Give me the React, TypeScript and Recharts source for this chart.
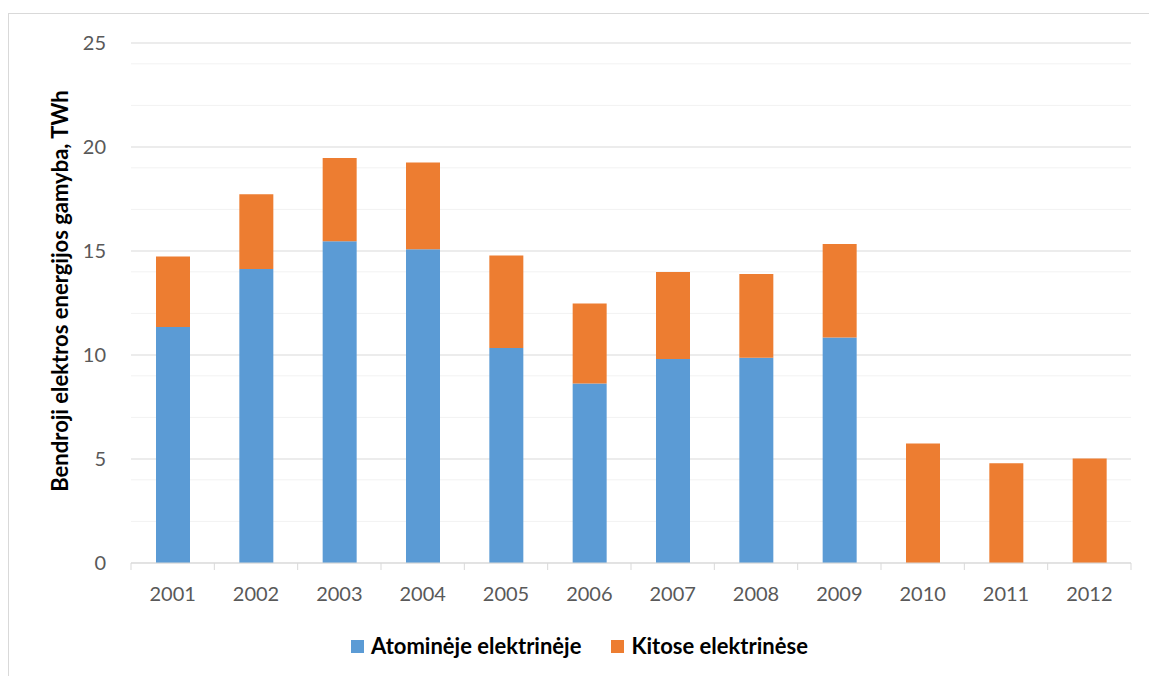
import React from "react";
import { BarChart, Bar, XAxis, YAxis, CartesianGrid, Legend } from "recharts";

const categories = ["2001", "2002", "2003", "2004", "2005", "2006", "2007", "2008", "2009", "2010", "2011", "2012"];
const atomineValues = [11.35, 14.13, 15.47, 15.08, 10.34, 8.63, 9.81, 9.87, 10.84, 0, 0, 0];
const kitoseValues = [3.38, 3.6, 4.0, 4.17, 4.44, 3.84, 4.18, 4.02, 4.5, 5.74, 4.79, 5.03];
const majorTicks = [0, 5, 10, 15, 20, 25];
const minorTicks = [1, 2, 3, 4, 6, 7, 8, 9, 11, 12, 13, 14, 16, 17, 18, 19, 21, 22, 23, 24];
const seriesNames = ["Atominėje elektrinėje", "Kitose elektrinėse"];
const seriesColors = ["#5b9bd5", "#ed7d31"];
const yTitle = "Bendroji elektros energijos gamyba, TWh";

const data = categories.map((c, i) => ({
  year: c,
  atomine: atomineValues[i],
  kitose: kitoseValues[i],
}));

const FONT = "Lato, 'Open Sans', sans-serif";

const XTick = (props: any) => {
  const { x, y, payload, index } = props;
  const off = payload && payload.offset ? payload.offset : 0;
  const axisY = y - 24;
  return (
    <g>
      <line x1={x - off} x2={x - off} y1={axisY} y2={axisY + 7} stroke="#d9d9d9" strokeWidth={1} />
      {index === categories.length - 1 ? (
        <line x1={x + off} x2={x + off} y1={axisY} y2={axisY + 7} stroke="#d9d9d9" strokeWidth={1} />
      ) : null}
      <text x={x} y={y} dy="0.71em" textAnchor="middle" fill="#595959" fontSize={20} fontFamily={FONT}>
        {payload.value}
      </text>
    </g>
  );
};

const YTitle = (props: any) => {
  const vb = props.viewBox || { x: 0, y: 0, width: 0, height: 0 };
  const cx = vb.x + 59;
  const cy = vb.y + vb.height / 2 - 12;
  return (
    <text
      x={cx}
      y={cy}
      transform={`rotate(-90 ${cx} ${cy})`}
      textAnchor="middle"
      dominantBaseline="central"
      fontSize={22}
      fontWeight="bold"
      fontFamily={FONT}
      fill="#000"
    >
      {yTitle}
    </text>
  );
};

const LegendContent = () => (
  <div style={{ display: "flex", justifyContent: "center", alignItems: "center", fontFamily: FONT }}>
    {seriesNames.map((n, i) => (
      <div key={n} style={{ display: "flex", alignItems: "center", marginLeft: i === 0 ? 0 : 30 }}>
        <span style={{ display: "inline-block", width: 13, height: 13, background: seriesColors[i], marginRight: 7 }} />
        <span style={{ fontSize: 22, fontWeight: "bold", color: "#000", lineHeight: "26px" }}>{n}</span>
      </div>
    ))}
  </div>
);

export default function App() {
  return (
    <div style={{ position: "relative", width: 1149, height: 676, overflow: "hidden", background: "#fff" }}>
      <style>{`body{margin:0;overflow:hidden;}`}</style>
      <div
        style={{
          position: "absolute",
          left: 8,
          top: 13,
          width: 1180,
          height: 700,
          border: "1px solid #d9d9d9",
          boxSizing: "border-box",
        }}
      />
      <div style={{ position: "absolute", left: 0, top: 0 }}>
        <BarChart
          width={1149}
          height={676}
          data={data}
          margin={{ top: 43, right: 18, bottom: 89, left: 0 }}
          barSize={34}
        >
          <CartesianGrid vertical={false} horizontalValues={minorTicks} stroke="#f2f2f2" strokeWidth={1} />
          <CartesianGrid vertical={false} horizontalValues={majorTicks} stroke="#d9d9d9" strokeWidth={1} />
          <XAxis
            dataKey="year"
            axisLine={{ stroke: "#d9d9d9" }}
            tickLine={false}
            tickSize={7}
            tickMargin={17}
            height={24}
            tick={<XTick />}
            interval={0}
          />
          <YAxis
            type="number"
            domain={[0, 25]}
            ticks={majorTicks}
            axisLine={false}
            tickLine={false}
            tickSize={8}
            tickMargin={17}
            width={131}
            tick={{ fill: "#595959", fontSize: 20, fontFamily: FONT }}
            label={<YTitle />}
          />
          <Legend
            layout="horizontal"
            verticalAlign="middle"
            align="center"
            wrapperStyle={{ top: 633, left: 5, width: 1149 }}
            content={<LegendContent />}
          />
          <Bar dataKey="atomine" stackId="a" fill={seriesColors[0]} name={seriesNames[0]} isAnimationActive={false} />
          <Bar dataKey="kitose" stackId="a" fill={seriesColors[1]} name={seriesNames[1]} isAnimationActive={false} />
        </BarChart>
      </div>
    </div>
  );
}
